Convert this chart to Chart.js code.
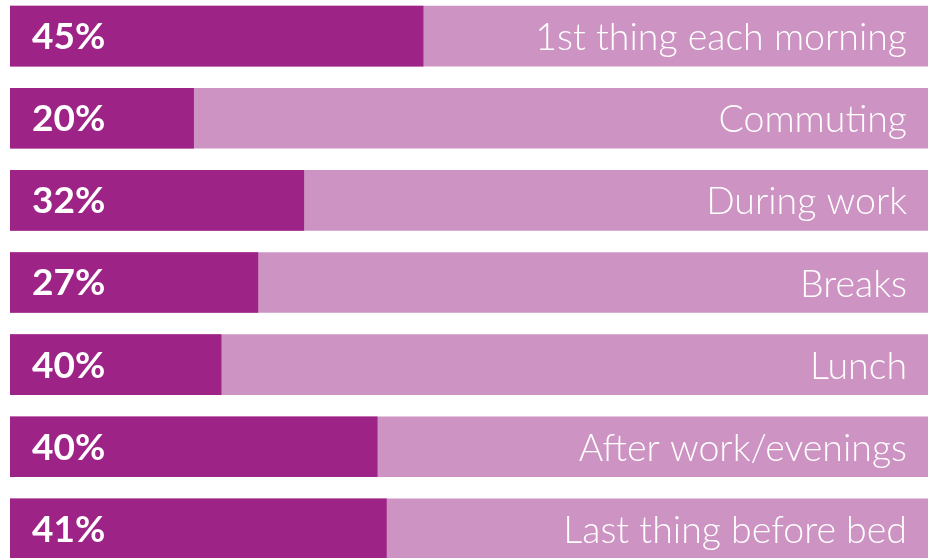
<!DOCTYPE html>
<html>
<head>
<meta charset="utf-8">
<script src="https://cdn.jsdelivr.net/npm/chart.js@4/dist/chart.umd.min.js"></script>
<style>
  html, body { margin: 0; padding: 0; background: #fff; overflow: hidden; }
  .chart_wrapper { position: absolute; left: 0; top: -5px; width: 935px; height: 575px; }
</style>
</head>
<body>
<div class="chart_wrapper"><canvas id="Bar_Chart"></canvas></div>
<script>
var categories = ["1st thing each morning", "Commuting", "During work", "Breaks", "Lunch", "After work/evenings", "Last thing before bed"];
var barValues = [45, 20, 32, 27, 23, 40, 41];
var pctLabels = ["45%", "20%", "32%", "27%", "40%", "40%", "41%"];
var fullValues = [100, 100, 100, 100, 100, 100, 100];

var labelPlugin = {
  id: 'rowLabels',
  afterDatasetsDraw: function(chart) {
    var ctx = chart.ctx;
    var yScale = chart.scales.y;
    var xScale = chart.scales.x;
    ctx.save();
    ctx.fillStyle = '#ffffff';
    ctx.textBaseline = 'middle';
    categories.forEach(function(cat, i) {
      var y = yScale.getPixelForValue(i) + 1;
      ctx.font = 'bold 37px Lato, "Open Sans", sans-serif';
      ctx.textAlign = 'left';
      ctx.fillText(pctLabels[i], xScale.getPixelForValue(0) + 22, y);
      ctx.font = '300 37.5px Lato, "Open Sans", sans-serif';
      ctx.textAlign = 'right';
      ctx.fillText(cat, xScale.getPixelForValue(100) - 21, y + 1);
    });
    ctx.restore();
  }
};

var ctx = document.getElementById('Bar_Chart');
var myBarChart = new Chart(ctx, {
  type: 'bar',
  data: {
    labels: categories,
    datasets: [{
      data: barValues,
      backgroundColor: '#9E2387',
      grouped: false,
      order: 0,
      barThickness: 60
    }, {
      data: fullValues,
      backgroundColor: '#CD93C2',
      grouped: false,
      order: 1,
      barThickness: 60
    }]
  },
  options: {
    indexAxis: 'y',
    responsive: true,
    maintainAspectRatio: false,
    animation: false,
    layout: { padding: { left: 10, right: 7, top: 0, bottom: 0 } },
    scales: {
      x: { display: false, min: 0, max: 100 },
      y: { display: false }
    },
    plugins: {
      legend: { display: false },
      tooltip: { enabled: false }
    }
  },
  plugins: [labelPlugin]
});
</script>
</body>
</html>
